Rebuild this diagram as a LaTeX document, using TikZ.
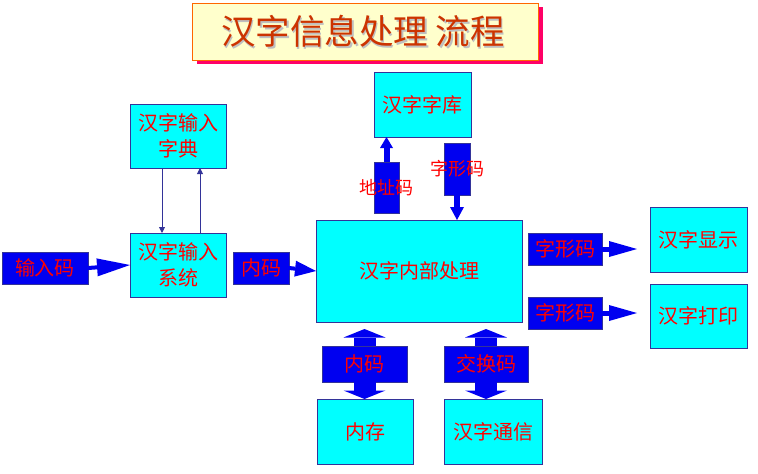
\documentclass[tikz,border=0pt]{standalone}
\usepackage{fontspec}
\newfontfamily\cjk{Noto Sans CJK SC}
\usetikzlibrary{arrows.meta}
\definecolor{boxcyan}{RGB}{0,255,255}
\definecolor{edge}{RGB}{51,51,153}
\definecolor{lblue}{RGB}{0,0,240}
\definecolor{ttl}{RGB}{204,51,0}
\definecolor{ttlfill}{RGB}{255,255,204}
\definecolor{ttledge}{RGB}{255,102,0}
\definecolor{ttlshadow}{RGB}{255,0,102}
\begin{document}
\begin{tikzpicture}[x=1pt,y=-1pt,
  box/.style={draw=edge, line width=1pt, fill=boxcyan, inner sep=0pt, outer sep=0pt,
    text=red, font=\cjk\fontsize{20}{26}\selectfont, align=center},
  lbl/.style={draw=edge, line width=0.8pt, fill=lblue, inner sep=0pt, outer sep=0pt,
    text=red, font=\cjk\fontsize{20}{24}\selectfont},
  bar/.style={draw=edge, line width=0.8pt, fill=lblue, inner sep=0pt, outer sep=0pt},
  vtxt/.style={text=red, font=\cjk\fontsize{18}{22}\selectfont, inner sep=0pt},
  thinarrow/.style={draw=edge, line width=0.9pt, -{Triangle[length=6pt,width=6pt]}},
  blkarrow/.style args={#1/#2/#3}{draw=lblue, line width=#1,
    -{Triangle[width=#2,length=#3,line width=0pt]}},
  dblarrow/.style={draw=lblue, line width=22pt,
    -{Triangle[width=42pt,length=8.5pt,line width=0pt]}},
  ttlfont/.style={font=\cjk\fontsize{34.5}{38}\selectfont}
]
\useasboundingbox (0,0) rectangle (758,474);

% title
\node[fill=ttlshadow, minimum width=346pt, minimum height=57pt, inner sep=0pt] at (369.5,35.5) {};
\node[draw=ttledge, line width=1pt, fill=ttlfill, minimum width=346pt, minimum height=57pt, inner sep=0pt] (title) at (365,31.5) {};
\node[ttlfont, text=black!25] at (364.5,33) {汉字信息处理 流程};
\node[ttlfont, text=ttl] (ttext) at (363,31.5) {汉字信息处理 流程};

% boxes
\node[box, minimum width=96pt, minimum height=64pt] (dict) at (178,136) {汉字输入\\字典};
\node[box, minimum width=96pt, minimum height=64pt] (sys) at (178,265) {汉字输入\\系统};
\node[box, minimum width=206pt, minimum height=102pt] (proc) at (419,271) {汉字内部处理};
\node[box, minimum width=97pt, minimum height=65pt] (lib) at (422.5,104.5) {汉字字库};
\node[box, minimum width=97pt, minimum height=65pt] (disp) at (698.5,239.5) {汉字显示};
\node[box, minimum width=97pt, minimum height=64pt] (prn) at (698.5,316) {汉字打印};
\node[box, minimum width=96pt, minimum height=65pt] (mem) at (365,431.5) {内存};
\node[box, minimum width=98pt, minimum height=65pt] (comm) at (493,431.5) {汉字通信};

% labels
\node[lbl, minimum width=86pt, minimum height=32pt] (inp) at (45,268) {输入码};
\node[lbl, minimum width=56pt, minimum height=32pt] (nm) at (261,268) {内码};
\node[lbl, minimum width=74pt, minimum height=32pt] (g1) at (565,249) {字形码};
\node[lbl, minimum width=74pt, minimum height=32pt] (g2) at (565,313) {字形码};
\node[bar, minimum width=25pt, minimum height=51pt] (addr) at (386.5,187.5) {};
\node[vtxt] at (addr.center) {地址码};
\node[bar, minimum width=26pt, minimum height=52pt] (glyph) at (457,169) {};
\node[vtxt] at (glyph.center) {字形码};
\node[lbl, minimum width=85pt, minimum height=36pt] (d1) at (364.5,364) {内码};
\node[lbl, minimum width=84pt, minimum height=36pt] (d2) at (486,364) {交换码};

% thin arrows
\draw[thinarrow] ([xshift=-16pt]dict.south) -- ([xshift=-16pt]sys.north);
\draw[thinarrow] ([xshift=22pt]sys.north) -- ([xshift=22pt]dict.south);

% block arrows
\draw[blkarrow=4pt/18pt/33pt] (inp.east) -- (sys.west);
\draw[blkarrow=4pt/16pt/21pt] (nm.east) -- (proc.west);
\draw[blkarrow=5pt/16pt/28pt, shorten >=13pt] (g1.east) -- (g1.east -| disp.west);
\draw[blkarrow=5pt/16pt/28pt, shorten >=13pt] (g2.east) -- (g2.east -| prn.west);
\draw[blkarrow=6pt/13pt/11pt] (addr.north) -- (addr.north |- lib.south);
\draw[blkarrow=6pt/14pt/13pt] (glyph.south) -- (glyph.south |- proc.north);

% double arrows
\draw[dblarrow, shorten >=7pt] (d1.north) -- (d1.north |- proc.south);
\draw[dblarrow] (d1.south) -- (d1.south |- mem.north);
\draw[dblarrow, shorten >=7pt] (d2.north) -- (d2.north |- proc.south);
\draw[dblarrow] (d2.south) -- (d2.south |- comm.north);
\end{tikzpicture}
\end{document}
